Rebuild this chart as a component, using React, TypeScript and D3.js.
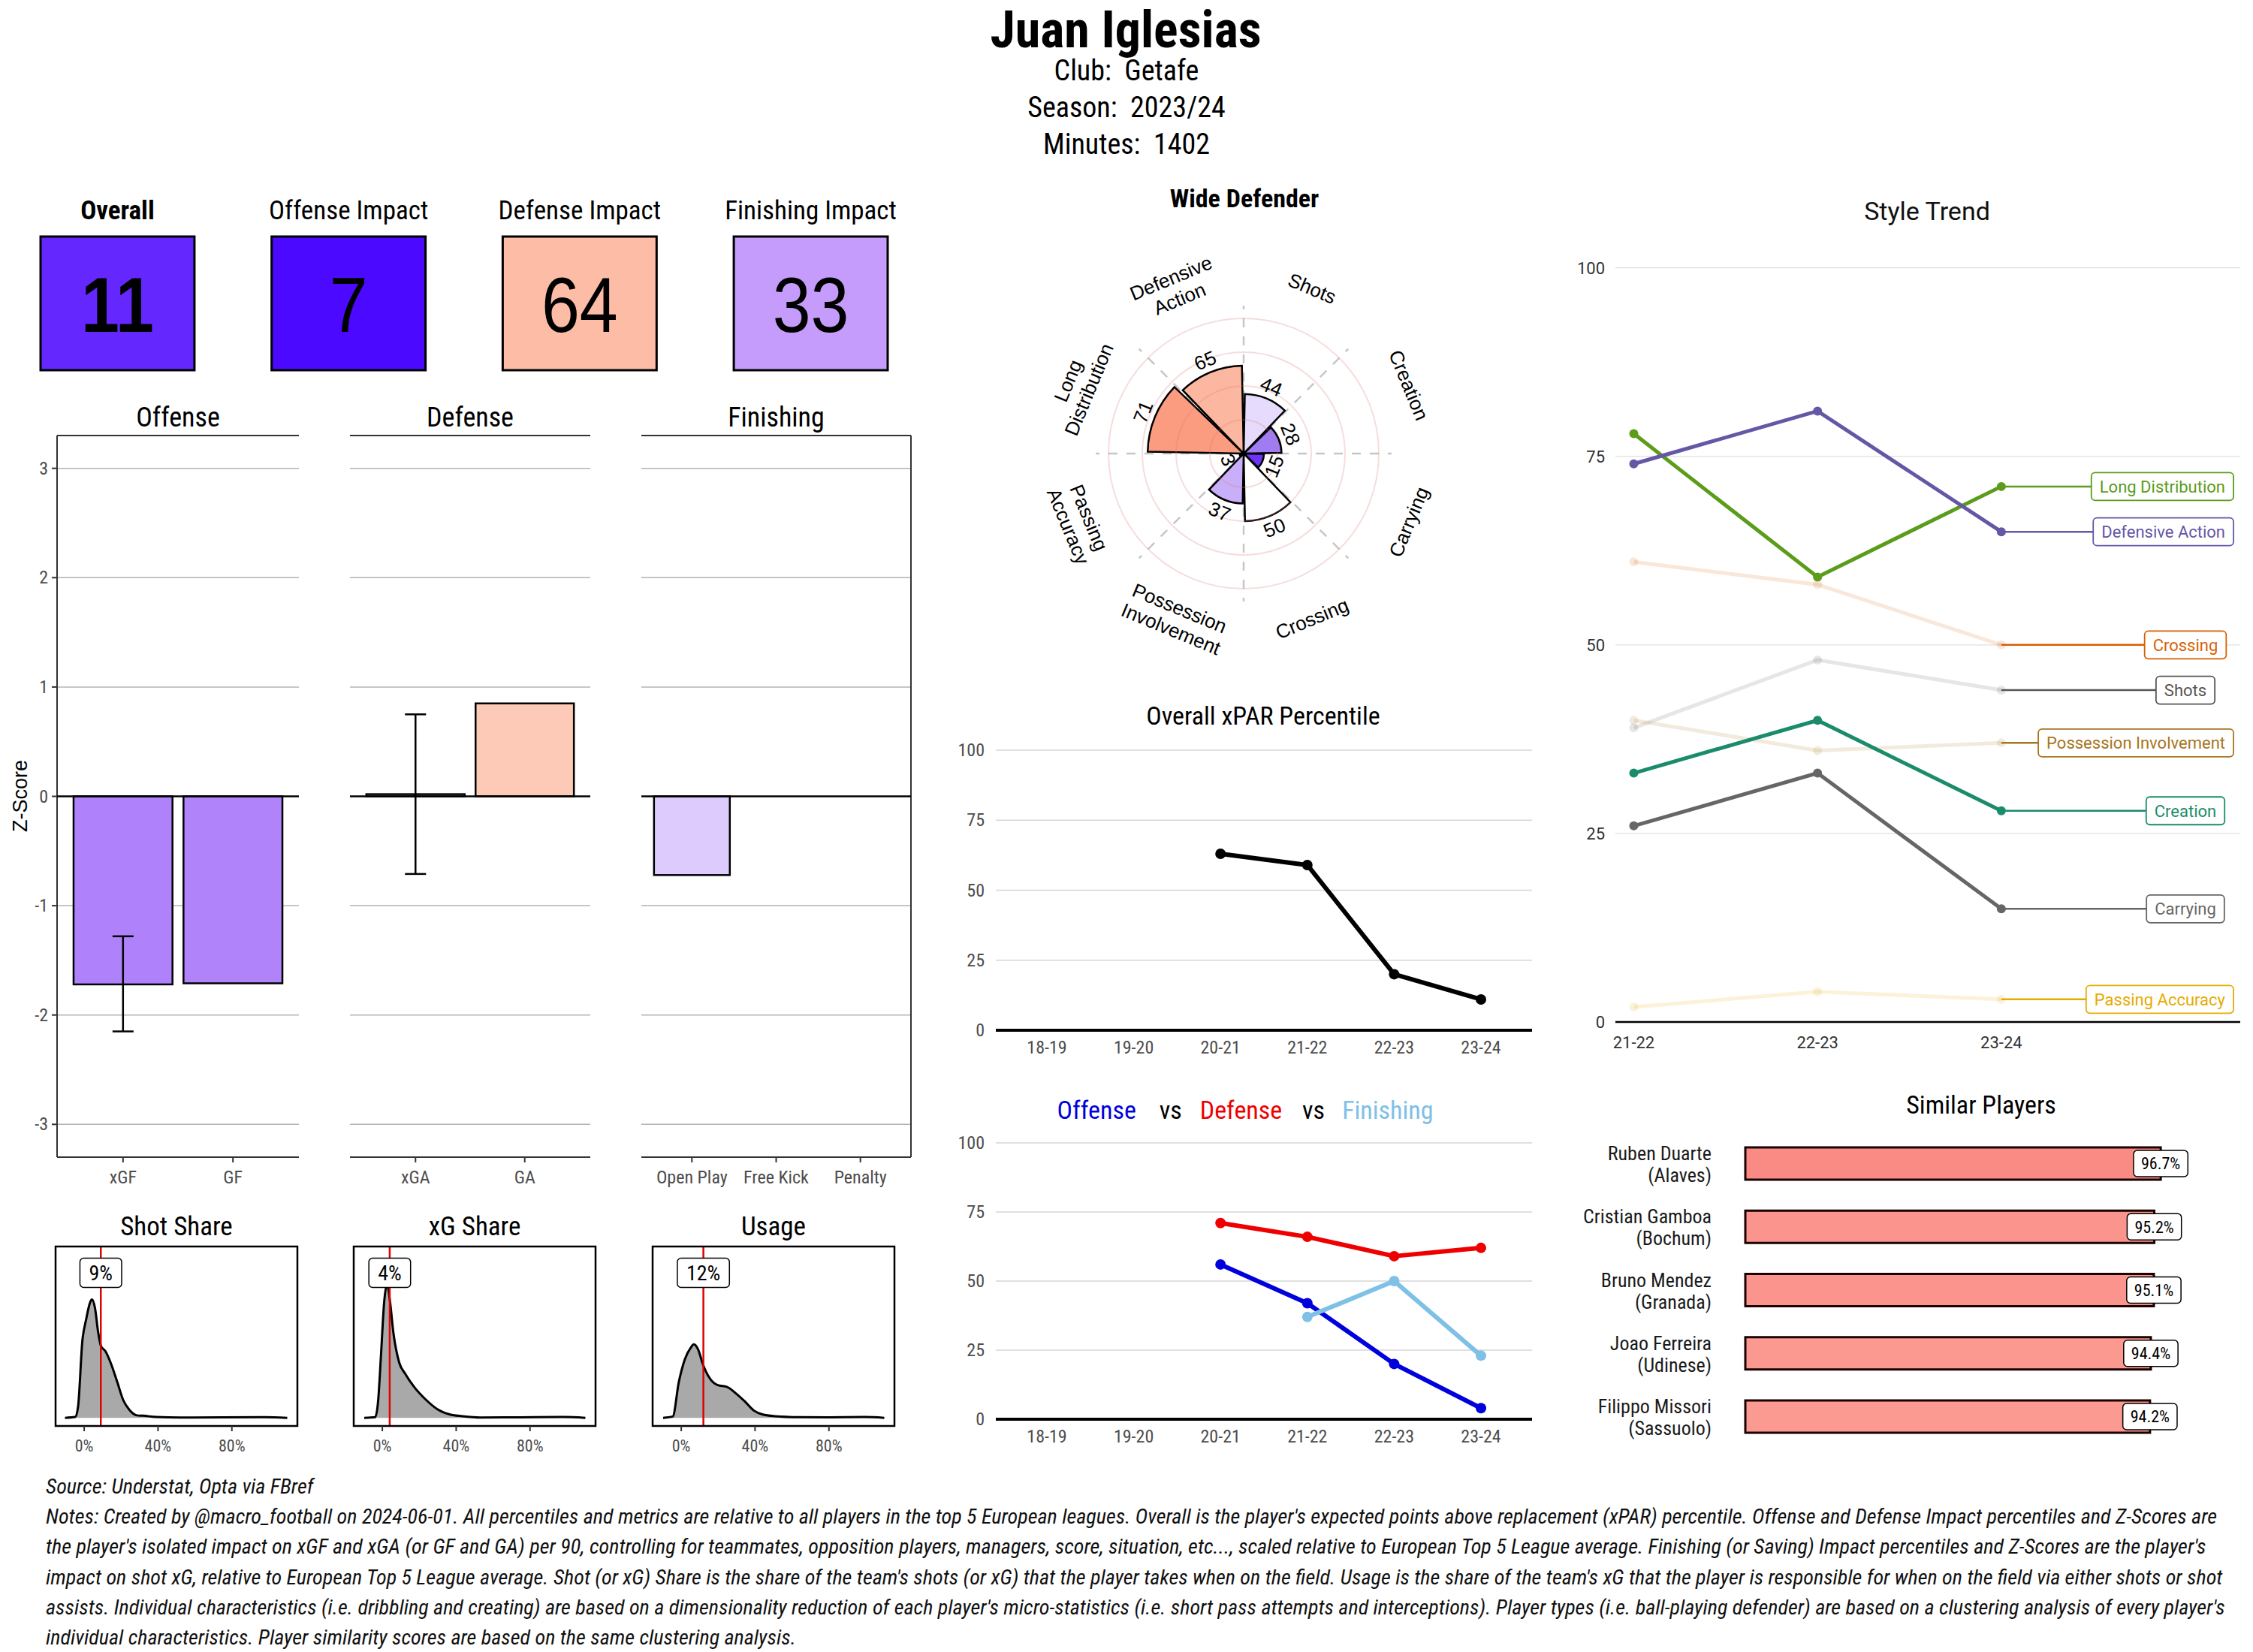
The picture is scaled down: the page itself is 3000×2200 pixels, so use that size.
import * as d3 from 'd3';
import React from 'react';

const W = 3000;
const H = 2200;

const COND = "'Roboto Condensed', 'Liberation Sans Narrow', 'DejaVu Sans Condensed', sans-serif";
const SANS = "'Liberation Sans', Arial, sans-serif";
const ROBOTO = "Roboto, 'Liberation Sans', sans-serif";

// Header.
const playerName = 'Juan Iglesias';
const playerInfo = ['Club:  Getafe', 'Season:  2023/24', 'Minutes:  1402'];

// Impact percentiles.
const impactLabels = ['Overall', 'Offense Impact', 'Defense Impact', 'Finishing Impact'];
const impactValues = [11, 7, 64, 33];

// Z-scores.
const zTicks = [-3, -2, -1, 0, 1, 2, 3];
const offenseCats = ['xGF', 'GF'];
const offenseZ = [-1.72, -1.71];
const offenseErr = [[-2.15, -1.28], null];
const defenseCats = ['xGA', 'GA'];
const defenseZ = [0.02, 0.85];
const defenseErr = [[-0.71, 0.75], null];
const finishingCats = ['Open Play', 'Free Kick', 'Penalty'];
const finishingZ = [-0.72, 0, 0];
const finishingErr = [null, null, null];

// Share densities: [percent, relative density].
const shareTitles = ['Shot Share', 'xG Share', 'Usage'];
const sharePlayer = [9, 4, 12];
const shareTicks = [0, 40, 80];
const shotShareDensity: [number, number][] = [
    [-10.4, 0], [-4.9, 0.005], [-3.3, 0.07], [-1.0, 0.47], [1.0, 0.6], [3.3, 0.71], [4.2, 0.725],
    [5.9, 0.67], [7.5, 0.53], [9.1, 0.44], [11.4, 0.41], [14.6, 0.33], [17.9, 0.22], [21.1, 0.11],
    [24.4, 0.05], [28.6, 0.015], [32, 0.013], [39, 0.005], [52, 0.002], [75, 0.003], [97.6, 0.004], [110, 0],
];
const xgShareDensity: [number, number][] = [
    [-9.8, 0], [-3.9, 0.004], [-2.3, 0.1], [-0.65, 0.4], [1.0, 0.71], [2.6, 0.82], [4.2, 0.71],
    [5.9, 0.53], [9.1, 0.34], [12.4, 0.27], [17.2, 0.19], [23.7, 0.11], [30.2, 0.05], [36.7, 0.02],
    [43.3, 0.01], [53, 0.002], [75, 0.003], [98.5, 0.005], [110, 0],
];
const usageDensity: [number, number][] = [
    [-9.8, 0], [-4.6, 0.008], [-1.3, 0.22], [2.0, 0.36], [5.2, 0.43], [6.8, 0.45], [9.1, 0.42],
    [11.7, 0.33], [15.0, 0.25], [19.8, 0.2], [24.7, 0.19], [29.6, 0.15], [34.5, 0.1], [39.3, 0.045],
    [44.2, 0.02], [50.7, 0.01], [63.7, 0.004], [80, 0.003], [99.5, 0.005], [110, 0],
];

// Style radar.
const styleCats = ['Defensive Action', 'Shots', 'Creation', 'Carrying', 'Crossing', 'Possession Involvement', 'Passing Accuracy', 'Long Distribution'];
const styleLabelLines = [['Defensive', 'Action'], ['Shots'], ['Creation'], ['Carrying'], ['Crossing'], ['Possession', 'Involvement'], ['Passing', 'Accuracy'], ['Long', 'Distribution']];
const stylePct = [65, 44, 28, 15, 50, 37, 3, 71];

// Season percentiles.
const seasons = ['18-19', '19-20', '20-21', '21-22', '22-23', '23-24'];
const pctTicks = [0, 25, 50, 75, 100];
const xparPct = [null, null, 63, 59, 20, 11];
const offensePct = [null, null, 56, 42, 20, 4];
const defensePct = [null, null, 71, 66, 59, 62];
const finishingPct = [null, null, null, 37, 50, 23];

// Style trend.
const trendSeasons = ['21-22', '22-23', '23-24'];
const trendLongDistribution = [78, 59, 71];
const trendDefensiveAction = [74, 81, 65];
const trendCrossing = [61, 58, 50];
const trendShots = [39, 48, 44];
const trendPossession = [40, 36, 37];
const trendCreation = [33, 40, 28];
const trendCarrying = [26, 33, 15];
const trendPassing = [2, 4, 3];
const trendHighlighted = ['Long Distribution', 'Defensive Action', 'Creation', 'Carrying'];

// Similar players.
const similarNames = ['Ruben Duarte', 'Cristian Gamboa', 'Bruno Mendez', 'Joao Ferreira', 'Filippo Missori'];
const similarClubs = ['Alaves', 'Bochum', 'Granada', 'Udinese', 'Sassuolo'];
const similarScores = [96.7, 95.2, 95.1, 94.4, 94.2];

// Notes.
const notesSource = 'Source: Understat, Opta via FBref';
const notesLines = [
    "Notes: Created by @macro_football on 2024-06-01. All percentiles and metrics are relative to all players in the top 5 European leagues. Overall is the player's expected points above replacement (xPAR) percentile. Offense and Defense Impact percentiles and Z-Scores are",
    "the player's isolated impact on xGF and xGA (or GF and GA) per 90, controlling for teammates, opposition players, managers, score, situation, etc..., scaled relative to European Top 5 League average. Finishing (or Saving) Impact percentiles and Z-Scores are the player's",
    "impact on shot xG, relative to European Top 5 League average. Shot (or xG) Share is the share of the team's shots (or xG) that the player takes when on the field. Usage is the share of the team's xG that the player is responsible for when on the field via either shots or shot",
    "assists. Individual characteristics (i.e. dribbling and creating) are based on a dimensionality reduction of each player's micro-statistics (i.e. short pass attempts and interceptions). Player types (i.e. ball-playing defender) are based on a clustering analysis of every player's",
    'individual characteristics. Player similarity scores are based on the same clustering analysis.',
];

const pctColor = d3
    .scaleLinear<string>()
    .domain([0, 7, 11, 15, 28, 33, 37, 44, 50, 64, 71, 100])
    .range(['#3a00ff', '#4b0aff', '#6428ff', '#6d34f5', '#a07cf4', '#c59cfb', '#c9aff9', '#e6dbfc', '#ffffff', '#fcbca6', '#fb9b7f', '#e8290e']);
const zColor = d3.scaleLinear<string>().domain([-3, 0, 3]).range(['#7425f8', '#ffffff', '#f84400']);
const simColor = d3.scaleLinear<string>().domain([94.2, 96.7]).range(['#fb9a91', '#fa8a84']);

const App = (): React.ReactElement => {
    const chartRef = React.useRef<SVGSVGElement>(null);

    React.useEffect(() => {
        const svg = d3.select(chartRef.current);
        svg.selectAll('*').remove();
        svg.append('rect').attr('width', W).attr('height', H).attr('fill', '#fff');

        const txt = (g: any, x: number, y: number, s: string, size: number, family = COND, anchor = 'middle', fill = '#000', weight = 400) =>
            g
                .append('text')
                .attr('x', x)
                .attr('y', y)
                .attr('text-anchor', anchor)
                .attr('fill', fill)
                .style('font-family', family)
                .style('font-size', size + 'px')
                .style('font-weight', weight)
                .style('white-space', 'pre')
                .text(s);

        // Label box: text with a rounded rect behind it.
        const boxLabel = (g: any, cx: number, cy: number, s: string, size: number, family: string, color: string, padX: number, h: number, rightLimit = Infinity, strokeW = 1.5) => {
            const rect = g.append('rect');
            const t = txt(g, cx, cy + size * 0.36, s, size, family, 'middle', color);
            const w = (t.node() as SVGTextElement).getComputedTextLength() + padX * 2;
            let left = cx - w / 2;
            if (left + w > rightLimit) left = rightLimit - w;
            t.attr('x', left + w / 2);
            rect.attr('x', left).attr('y', cy - h / 2).attr('width', w).attr('height', h).attr('rx', 5)
                .attr('fill', '#fff').attr('stroke', color).attr('stroke-width', strokeW);
            return left;
        };

        // Header.
        txt(svg, 1499, 63, playerName, 68, COND, 'middle', '#000', 700);
        playerInfo.forEach((s, i) => txt(svg, 1500, 107 + i * 49, s, 38));

        // Impact boxes.
        const bx = d3.scaleBand().domain(impactLabels).range([54, 1182]).paddingInner(0.334);
        impactLabels.forEach((l, i) => {
            const x0 = bx(l) as number;
            const cx = x0 + bx.bandwidth() / 2;
            txt(svg, cx, 292, l, 35, COND, 'middle', '#000', i === 0 ? 700 : 400);
            svg.append('rect').attr('x', x0).attr('y', 315).attr('width', bx.bandwidth()).attr('height', 178)
                .attr('fill', pctColor(impactValues[i])).attr('stroke', '#000').attr('stroke-width', 3);
            const t = txt(svg, cx, 442, String(impactValues[i]), 104, SANS, 'middle', '#000', i === 0 ? 700 : 400);
            const w = (t.node() as SVGTextElement).getComputedTextLength();
            t.attr('textLength', w * 0.88).attr('lengthAdjust', 'spacingAndGlyphs');
        });

        // Z-score facets.
        const zY = d3.scaleLinear().domain([-3.3, 3.3]).range([1541, 580]);
        const facets = [
            { title: 'Offense', cats: offenseCats, values: offenseZ, err: offenseErr, x0: 76, x1: 398 },
            { title: 'Defense', cats: defenseCats, values: defenseZ, err: defenseErr, x0: 466, x1: 786 },
            { title: 'Finishing', cats: finishingCats, values: finishingZ, err: finishingErr, x0: 854, x1: 1213 },
        ];
        facets.forEach((f, fi) => {
            const g = svg.append('g');
            const x = d3.scaleBand().domain(f.cats).range([f.x0, f.x1]).paddingInner(0.1).paddingOuter(0.15);
            zTicks.filter((t) => t !== 0).forEach((t) => {
                g.append('line').attr('x1', f.x0).attr('x2', f.x1).attr('y1', zY(t)).attr('y2', zY(t))
                    .attr('stroke', '#b3b3b3').attr('stroke-width', 1.5);
            });
            g.append('line').attr('x1', f.x0).attr('x2', f.x1).attr('y1', 580).attr('y2', 580).attr('stroke', '#333').attr('stroke-width', 2);
            g.append('line').attr('x1', f.x0).attr('x2', f.x1).attr('y1', 1541).attr('y2', 1541).attr('stroke', '#333').attr('stroke-width', 2);
            if (fi === 0) {
                g.append('line').attr('x1', f.x0).attr('x2', f.x0).attr('y1', 580).attr('y2', 1541).attr('stroke', '#333').attr('stroke-width', 2);
                zTicks.forEach((t) => {
                    g.append('line').attr('x1', f.x0 - 7).attr('x2', f.x0).attr('y1', zY(t)).attr('y2', zY(t)).attr('stroke', '#333').attr('stroke-width', 2);
                    txt(g, f.x0 - 12, zY(t) + 8, String(t), 24, COND, 'end', '#4d4d4d');
                });
            }
            if (fi === facets.length - 1) {
                g.append('line').attr('x1', f.x1).attr('x2', f.x1).attr('y1', 580).attr('y2', 1541).attr('stroke', '#333').attr('stroke-width', 2);
            }
            f.cats.forEach((c, i) => {
                const v = f.values[i];
                if (v !== 0) {
                    g.append('rect').attr('x', x(c) as number).attr('width', x.bandwidth())
                        .attr('y', zY(Math.max(0, v))).attr('height', Math.abs(zY(v) - zY(0)))
                        .attr('fill', zColor(v)).attr('stroke', '#000').attr('stroke-width', 2.5);
                }
            });
            g.append('line').attr('x1', f.x0).attr('x2', f.x1).attr('y1', zY(0)).attr('y2', zY(0)).attr('stroke', '#000').attr('stroke-width', 2.5);
            f.cats.forEach((c, i) => {
                const e = f.err[i];
                const cx = (x(c) as number) + x.bandwidth() / 2;
                if (e) {
                    g.append('line').attr('x1', cx).attr('x2', cx).attr('y1', zY(e[0])).attr('y2', zY(e[1])).attr('stroke', '#000').attr('stroke-width', 2.5);
                    e.forEach((ev) => {
                        g.append('line').attr('x1', cx - 14).attr('x2', cx + 14).attr('y1', zY(ev)).attr('y2', zY(ev)).attr('stroke', '#000').attr('stroke-width', 2.5);
                    });
                }
                g.append('line').attr('x1', cx).attr('x2', cx).attr('y1', 1541).attr('y2', 1548).attr('stroke', '#333').attr('stroke-width', 2);
                txt(g, cx, 1576, c, 24, COND, 'middle', '#4d4d4d');
            });
            txt(g, (f.x0 + f.x1) / 2, 568, f.title, 36);
        });
        svg.append('text').attr('transform', 'translate(36,1060) rotate(-90)').attr('text-anchor', 'middle')
            .style('font-family', SANS).style('font-size', '27px').text('Z-Score');

        // Share densities.
        const dens = [shotShareDensity, xgShareDensity, usageDensity];
        const densX0 = [74, 471, 869];
        dens.forEach((d, i) => {
            const g = svg.append('g');
            const x0 = densX0[i];
            const x1 = x0 + 322;
            const x = d3.scaleLinear().domain([-0.155, 1.155]).range([x0, x1]);
            const y = d3.scaleLinear().domain([-0.05, 1.05]).range([1899, 1660]);
            const area = d3.area<[number, number]>().x((p) => x(p[0] / 100)).y0(y(0)).y1((p) => y(p[1])).curve(d3.curveMonotoneX);
            const line = d3.line<[number, number]>().x((p) => x(p[0] / 100)).y((p) => y(p[1])).curve(d3.curveMonotoneX);
            g.append('path').attr('d', area(d) as string).attr('fill', '#a9a9a9');
            g.append('path').attr('d', line(d) as string).attr('fill', 'none').attr('stroke', '#000').attr('stroke-width', 3);
            const xv = x(sharePlayer[i] / 100);
            g.append('line').attr('x1', xv).attr('x2', xv).attr('y1', 1660).attr('y2', 1899).attr('stroke', '#e00000').attr('stroke-width', 2.5);
            boxLabel(g, xv, 1695, sharePlayer[i] + '%', 28, COND, '#000', 12, 39);
            g.append('rect').attr('x', x0).attr('y', 1660).attr('width', x1 - x0).attr('height', 239)
                .attr('fill', 'none').attr('stroke', '#000').attr('stroke-width', 2.5);
            shareTicks.forEach((t) => {
                g.append('line').attr('x1', x(t / 100)).attr('x2', x(t / 100)).attr('y1', 1899).attr('y2', 1906).attr('stroke', '#333').attr('stroke-width', 2);
                txt(g, x(t / 100), 1933, t + '%', 22, COND, 'middle', '#4d4d4d');
            });
            txt(g, (x0 + x1) / 2, 1645, shareTitles[i], 35);
        });

        // Style radar: category i spans the sector ending at i * 45 degrees.
        {
            const g = svg.append('g').attr('transform', 'translate(1656,604)');
            const rS = d3.scaleLinear().domain([0, 100]).range([0, 180]);
            const step = (2 * Math.PI) / styleCats.length;
            const arc = d3.arc();
            const rot = (deg: number) => {
                let a = (deg + 360) % 360;
                if (a > 90 && a < 270) a -= 180;
                if (a > 180) a -= 360;
                return a;
            };
            d3.range(styleCats.length).forEach((i) => {
                const a = i * step;
                g.append('line').attr('x1', 0).attr('y1', 0).attr('x2', 197 * Math.sin(a)).attr('y2', -197 * Math.cos(a))
                    .attr('stroke', '#c6c6c6').attr('stroke-width', 2.5).attr('stroke-dasharray', '12 12');
            });
            styleCats.forEach((c, i) => {
                const pad = step * 0.025;
                g.append('path')
                    .attr('d', arc({ innerRadius: 0, outerRadius: rS(stylePct[i]), startAngle: (i - 1) * step + pad, endAngle: i * step - pad } as any) as string)
                    .attr('fill', pctColor(stylePct[i])).attr('stroke', '#000').attr('stroke-width', 2.5);
            });
            [25, 50, 75, 100].forEach((v) => {
                g.append('circle').attr('r', rS(v)).attr('fill', 'none').attr('stroke', 'rgba(220,120,120,0.25)').attr('stroke-width', 2);
            });
            styleCats.forEach((c, i) => {
                const a = (i - 0.5) * step;
                const deg = (a * 180) / Math.PI;
                const r = rS(stylePct[i]) + 17;
                g.append('text')
                    .attr('transform', `translate(${r * Math.sin(a)},${-r * Math.cos(a)}) rotate(${rot(deg)})`)
                    .attr('text-anchor', 'middle').attr('dominant-baseline', 'central')
                    .style('font-family', SANS).style('font-size', '26px').text(String(stylePct[i]));
                const lines = styleLabelLines[i];
                const R = 238;
                const t = g.append('text')
                    .attr('transform', `translate(${R * Math.sin(a)},${-R * Math.cos(a)}) rotate(${rot(deg)})`)
                    .attr('text-anchor', 'middle').style('font-family', SANS).style('font-size', '26px');
                lines.forEach((l, k) => {
                    t.append('tspan').attr('x', 0).attr('y', (k - (lines.length - 1) / 2) * 30 + 9).text(l);
                });
            });
            txt(svg, 1657, 276, 'Wide Defender', 34, COND, 'middle', '#000', 700);
        }

        // Season percentile charts.
        const xS = d3.scalePoint().domain(seasons).range([1394, 1972]);
        const drawSeasons = (y0: number, y100: number, series: { values: (number | null)[]; color: string }[]) => {
            const g = svg.append('g');
            const y = d3.scaleLinear().domain([0, 100]).range([y0, y100]);
            pctTicks.forEach((t) => {
                if (t > 0) g.append('line').attr('x1', 1326).attr('x2', 2040).attr('y1', y(t)).attr('y2', y(t)).attr('stroke', '#d6d6d6').attr('stroke-width', 1.5);
                txt(g, 1311, y(t) + 8, String(t), 24, COND, 'end', '#4d4d4d');
            });
            g.append('line').attr('x1', 1326).attr('x2', 2040).attr('y1', y(0)).attr('y2', y(0)).attr('stroke', '#000').attr('stroke-width', 4);
            seasons.forEach((s) => txt(g, xS(s) as number, y0 + 31, s, 24, COND, 'middle', '#4d4d4d'));
            series.forEach((sr) => {
                const line = d3.line<number | null>().defined((v) => v !== null).x((v, i) => xS(seasons[i]) as number).y((v) => y(v as number));
                g.append('path').attr('d', line(sr.values) as string).attr('fill', 'none').attr('stroke', sr.color).attr('stroke-width', 6).attr('stroke-linejoin', 'round');
                sr.values.forEach((v, i) => {
                    if (v !== null) g.append('circle').attr('cx', xS(seasons[i]) as number).attr('cy', y(v)).attr('r', 7).attr('fill', sr.color);
                });
            });
            return g;
        };
        drawSeasons(1372, 999, [{ values: xparPct, color: '#000' }]);
        txt(svg, 1682, 965, 'Overall xPAR Percentile', 34);
        drawSeasons(1890, 1522, [
            { values: defensePct, color: '#ee0000' },
            { values: offensePct, color: '#0000dd' },
            { values: finishingPct, color: '#7ec0e6' },
        ]);
        {
            const t = txt(svg, 1658, 1490, '', 34);
            const parts: [string, string, number][] = [
                ['Offense', '#0000dd', 0], ['vs', '#000', 31], ['Defense', '#ee0000', 24], ['vs', '#000', 27], ['Finishing', '#7ec0e6', 23],
            ];
            parts.forEach(([s, c, dx]) => t.append('tspan').attr('dx', dx).attr('fill', c).text(s));
        }

        // Style trend.
        {
            const g = svg.append('g');
            const tx = d3.scaleLinear().domain([0.9, 4.3]).range([2151, 2983]);
            const ty = d3.scaleLinear().domain([0, 100]).range([1361, 356.6]);
            [25, 50, 75, 100].forEach((t) => {
                g.append('line').attr('x1', 2151).attr('x2', 2983).attr('y1', ty(t)).attr('y2', ty(t)).attr('stroke', '#e0e0e0').attr('stroke-width', 1.2);
            });
            [0, 25, 50, 75, 100].forEach((t) => txt(g, 2137, ty(t) + 8, String(t), 22, ROBOTO, 'end', '#333'));
            g.append('line').attr('x1', 2151).attr('x2', 2983).attr('y1', ty(0)).attr('y2', ty(0)).attr('stroke', '#000').attr('stroke-width', 2.5);
            trendSeasons.forEach((s, i) => txt(g, tx(i + 1), 1396, s, 22, ROBOTO, 'middle', '#333'));
            txt(g, 2566, 293, 'Style Trend', 34, ROBOTO, 'middle', '#111');

            const trend = [
                { name: 'Long Distribution', values: trendLongDistribution, color: '#5b9c1b' },
                { name: 'Defensive Action', values: trendDefensiveAction, color: '#6557a6' },
                { name: 'Crossing', values: trendCrossing, color: '#d95f02' },
                { name: 'Shots', values: trendShots, color: '#555555' },
                { name: 'Possession Involvement', values: trendPossession, color: '#a6761d' },
                { name: 'Creation', values: trendCreation, color: '#1a8c6c' },
                { name: 'Carrying', values: trendCarrying, color: '#666666' },
                { name: 'Passing Accuracy', values: trendPassing, color: '#e6ab02' },
            ];
            const ordered = [...trend].sort((a, b) => Number(trendHighlighted.includes(a.name)) - Number(trendHighlighted.includes(b.name)));
            const line = d3.line<number>().x((v, i) => tx(i + 1)).y((v) => ty(v));
            ordered.forEach((s) => {
                const op = trendHighlighted.includes(s.name) ? 1 : 0.15;
                g.append('path').attr('d', line(s.values) as string).attr('fill', 'none').attr('stroke', s.color)
                    .attr('stroke-opacity', op).attr('stroke-width', 5);
                s.values.forEach((v, i) => g.append('circle').attr('cx', tx(i + 1)).attr('cy', ty(v)).attr('r', 6).attr('fill', s.color).attr('fill-opacity', op));
            });
            trend.forEach((s) => {
                const last = s.values[s.values.length - 1];
                const seg = g.append('line').attr('x1', tx(3)).attr('y1', ty(last)).attr('y2', ty(last))
                    .attr('stroke', s.color).attr('stroke-width', 2.5);
                const left = boxLabel(g, 2910, ty(last), s.name, 22, ROBOTO, s.color, 11, 37, 2974, 1.8);
                seg.attr('x2', left);
            });
        }

        // Similar players.
        {
            const g = svg.append('g');
            const sy = d3.scalePoint().domain(similarNames).range([1549.5, 1886.5]);
            const sx = d3.scaleLinear().domain([0, 100]).range([2324, 2896]);
            txt(g, 2638, 1483, 'Similar Players', 34);
            similarNames.forEach((n, i) => {
                const cy = sy(n) as number;
                const v = similarScores[i];
                g.append('rect').attr('x', sx(0)).attr('y', cy - 21.5).attr('width', sx(v) - sx(0)).attr('height', 43)
                    .attr('fill', simColor(v)).attr('stroke', '#1a0000').attr('stroke-width', 3);
                txt(g, 2279, cy - 4.5, n, 26, COND, 'end', '#1a1a1a');
                txt(g, 2279, cy + 24.5, '(' + similarClubs[i] + ')', 26, COND, 'end', '#1a1a1a');
                boxLabel(g, sx(v), cy, v.toFixed(1) + '%', 22, COND, '#000', 10, 35);
            });
        }

        // Notes.
        {
            const g = svg.append('g');
            const all = [notesSource, ...notesLines];
            const nodes = all.map((s, i) =>
                txt(g, 61, 1989 + i * 40.2, s, 27, COND, 'start', '#111').style('font-style', 'italic'),
            );
            const natural = nodes.map((n) => (n.node() as SVGTextElement).getComputedTextLength());
            const ratio = (2952 - 61) / natural[1];
            nodes.forEach((n, i) => n.attr('textLength', natural[i] * ratio).attr('lengthAdjust', 'spacingAndGlyphs'));
        }
    }, []);

    return (
        <div>
            <svg ref={chartRef} width={W} height={H} style={{ position: 'absolute', left: 0, top: 0 }}></svg>
        </div>
    );
};

export default App;
